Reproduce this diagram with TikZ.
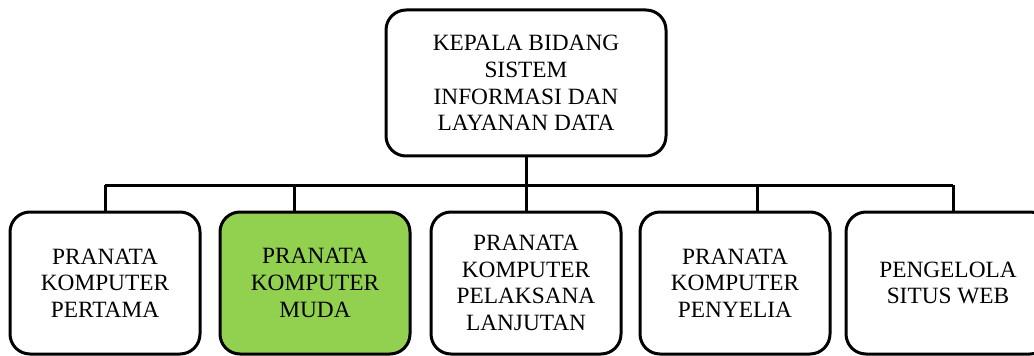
\documentclass[tikz,border=0pt]{standalone}
\usepackage{fontspec}
\setmainfont{Liberation Serif}

\tikzset{
    jabatan/.style={draw, line width=2.25pt, rounded corners=15pt, align=center,
        inner sep=0pt, font=\fontsize{17.5}{20}\selectfont,
        minimum width=190*0.75pt, minimum height=142*0.75pt},
    garis/.style={line width=2.25pt}
}

\begin{document}
\begin{tikzpicture}[x=0.75pt, y=-0.75pt]
    % Warna
    \definecolor{colorMuda}{RGB}{146,208,80}

    \useasboundingbox (0,0) rectangle (1034,356);

    % Kepala bidang
    \node[jabatan, minimum width=280*0.75pt, minimum height=146*0.75pt] (kepala) at (526,83)
        {KEPALA BIDANG\\SISTEM\\INFORMASI DAN\\LAYANAN DATA};

    % Pranata komputer dan pengelola
    \node[jabatan] (pertama) at (105,283) {PRANATA\\KOMPUTER\\PERTAMA};
    \node[jabatan, fill=colorMuda] (muda) at (315,283) {PRANATA\\KOMPUTER\\MUDA};
    \node[jabatan] (lanjutan) at (526,283) {PRANATA\\KOMPUTER\\PELAKSANA\\LANJUTAN};
    \node[jabatan] (penyelia) at (735,283) {PRANATA\\KOMPUTER\\PENYELIA};
    \node[jabatan, minimum width=204*0.75pt] (webmaster) at (948,283) {PENGELOLA\\SITUS WEB};

    % Garis bus
    \coordinate (busKiri) at (105,185);
    \coordinate (busKanan) at (953,185);
    \coordinate (cabangMuda) at (294,185);
    \coordinate (cabangPenyelia) at (757,185);
    \draw[garis] (busKiri) -- (busKanan);

    % Cabang ke tiap jabatan
    \draw[garis] (kepala.south) -- (lanjutan.north);
    \draw[garis] (busKiri) -- (pertama.north);
    \draw[garis] (cabangMuda) -- (cabangMuda |- muda.north);
    \draw[garis] (cabangPenyelia) -- (cabangPenyelia |- penyelia.north);
    \draw[garis] (busKanan) -- (busKanan |- webmaster.north);
\end{tikzpicture}
\end{document}
